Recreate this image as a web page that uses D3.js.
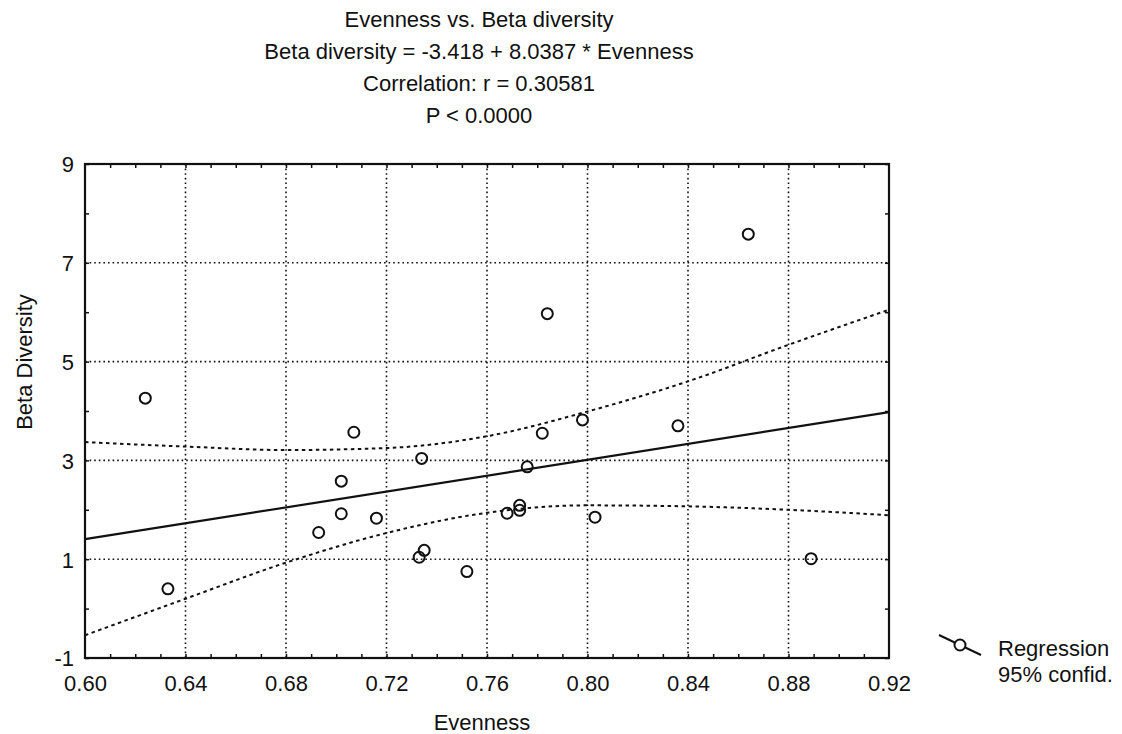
<!DOCTYPE html>
<html>
<head>
<meta charset="utf-8">
<script src="https://cdn.jsdelivr.net/npm/d3@7"></script>
<style>
  body { margin: 0; background: #fff; }
  text { font-family: "Liberation Sans", Arial, sans-serif; fill: #111; }
</style>
</head>
<body>
<div id="container"></div>
<script>
// define constants
const WIDTH = 1122;
const HEIGHT = 734;
const MARGIN = { top: 164, left: 85, right: 233, bottom: 76 };
const PLOT_W = WIDTH - MARGIN.left - MARGIN.right;
const PLOT_H = HEIGHT - MARGIN.top - MARGIN.bottom;
const FONT = "22px";

// data
const evenness = [0.624, 0.633, 0.707, 0.702, 0.702, 0.693, 0.716, 0.734, 0.735, 0.733, 0.752,
    0.773, 0.773, 0.768, 0.776, 0.782, 0.784, 0.798, 0.803, 0.836, 0.864, 0.889];
const betaDiversity = [4.26, 0.40, 3.57, 2.58, 1.92, 1.54, 1.83, 3.04, 1.18, 1.04, 0.75,
    2.09, 1.99, 1.93, 2.87, 3.55, 5.97, 3.82, 1.85, 3.70, 7.58, 1.01];

// regression line ends and 95% band, read at the x ticks
const fitX = [0.60, 0.92];
const fitY = [1.405, 3.977];
const bandX = [0.60, 0.64, 0.68, 0.72, 0.76, 0.80, 0.84, 0.88, 0.92];
const bandUpper = [3.37, 3.28, 3.21, 3.25, 3.49, 3.99, 4.60, 5.34, 6.05];
const bandLower = [-0.54, 0.20, 0.93, 1.53, 1.94, 2.09, 2.07, 2.00, 1.89];

const xTicks = [0.60, 0.64, 0.68, 0.72, 0.76, 0.80, 0.84, 0.88, 0.92];
const yTicks = [-1, 1, 3, 5, 7, 9];
const titleLines = [
    "Evenness vs. Beta diversity",
    "Beta diversity = -3.418 + 8.0387 * Evenness",
    "Correlation: r = 0.30581",
    "P < 0.0000"
];

// create svg element
const canvas = d3.select("#container")
    .append("svg")
    .attr("width", WIDTH)
    .attr("height", HEIGHT);

const xScale = d3.scaleLinear().domain([0.60, 0.92]).range([0, PLOT_W]);
const yScale = d3.scaleLinear().domain([-1, 9]).range([PLOT_H, 0]);

const plot = canvas.append("g")
    .attr("transform", "translate(" + MARGIN.left + "," + MARGIN.top + ")");

// dotted grid
plot.selectAll(".vgrid")
    .data(xTicks.slice(1, -1))
    .enter()
    .append("line")
    .attr("x1", (d) => xScale(d)).attr("x2", (d) => xScale(d))
    .attr("y1", 0).attr("y2", PLOT_H)
    .attr("stroke", "#111").attr("stroke-width", 1.6)
    .attr("stroke-dasharray", "1.6,3");

plot.selectAll(".hgrid")
    .data(yTicks.slice(1, -1))
    .enter()
    .append("line")
    .attr("x1", 0).attr("x2", PLOT_W)
    .attr("y1", (d) => yScale(d)).attr("y2", (d) => yScale(d))
    .attr("stroke", "#111").attr("stroke-width", 1.6)
    .attr("stroke-dasharray", "1.6,3");

// minor ticks, pointing inside on all four sides
const minorX = d3.range(61, 92).map((d) => d / 100);
const minorY = d3.range(-1, 10);

plot.append("g")
    .attr("transform", "translate(0," + PLOT_H + ")")
    .call(d3.axisBottom(xScale).tickValues(minorX).tickSize(-4).tickFormat(""))
    .call((g) => g.select(".domain").remove());
plot.append("g")
    .call(d3.axisTop(xScale).tickValues(minorX).tickSize(-4).tickFormat(""))
    .call((g) => g.select(".domain").remove());
plot.append("g")
    .call(d3.axisLeft(yScale).tickValues(minorY).tickSize(-4).tickFormat(""))
    .call((g) => g.select(".domain").remove());
plot.append("g")
    .attr("transform", "translate(" + PLOT_W + ",0)")
    .call(d3.axisRight(yScale).tickValues(minorY).tickSize(-4).tickFormat(""))
    .call((g) => g.select(".domain").remove());
plot.selectAll(".tick line").attr("stroke", "#111").attr("stroke-width", 1.5);

// tick labels (plain hyphen for the minus sign, as in the original)
const bottomAxis = plot.append("g")
    .attr("transform", "translate(0," + PLOT_H + ")")
    .call(d3.axisBottom(xScale).tickValues(xTicks).tickSize(0).tickPadding(17)
        .tickFormat(d3.format(".2f")));
const leftAxis = plot.append("g")
    .call(d3.axisLeft(yScale).tickValues(yTicks).tickSize(0).tickPadding(11)
        .tickFormat((d) => String(d)));
[bottomAxis, leftAxis].forEach((g) => {
    g.select(".domain").remove();
    g.selectAll("text")
        .style("font-family", "'Liberation Sans', Arial, sans-serif")
        .style("font-size", FONT)
        .attr("fill", "#111");
});
leftAxis.selectAll("text").attr("dy", "0.36em");

// confidence band
const band = d3.line()
    .x((d, i) => xScale(bandX[i]))
    .y((d) => yScale(d))
    .curve(d3.curveMonotoneX);

[bandUpper, bandLower].forEach((values) => {
    plot.append("path")
        .attr("d", band(values))
        .attr("fill", "none")
        .attr("stroke", "#111")
        .attr("stroke-width", 2)
        .attr("stroke-dasharray", "3.5,3.5");
});

// regression line
plot.append("line")
    .attr("x1", xScale(fitX[0])).attr("y1", yScale(fitY[0]))
    .attr("x2", xScale(fitX[1])).attr("y2", yScale(fitY[1]))
    .attr("stroke", "#111").attr("stroke-width", 2.2);

// points
plot.selectAll("circle")
    .data(evenness)
    .enter()
    .append("circle")
    .attr("cx", (d) => xScale(d))
    .attr("cy", (d, i) => yScale(betaDiversity[i]))
    .attr("r", 5.5)
    .attr("fill", "none")
    .attr("stroke", "#111")
    .attr("stroke-width", 2);

// frame
plot.append("rect")
    .attr("width", PLOT_W).attr("height", PLOT_H)
    .attr("fill", "none")
    .attr("stroke", "#111").attr("stroke-width", 2.2);

// title
canvas.selectAll(".title")
    .data(titleLines)
    .enter()
    .append("text")
    .attr("x", 479)
    .attr("y", (d, i) => 27 + i * 32)
    .attr("text-anchor", "middle")
    .style("font-size", FONT)
    .text((d) => d);

// label x axis
canvas.append("text")
    .attr("x", 482)
    .attr("y", 730)
    .attr("text-anchor", "middle")
    .style("font-size", FONT)
    .text("Evenness");

// label y axis
canvas.append("text")
    .attr("transform", "translate(32,362) rotate(-90)")
    .attr("text-anchor", "middle")
    .style("font-size", FONT)
    .text("Beta Diversity");

// legend
const legend = canvas.append("g").attr("transform", "translate(939,635)");
legend.append("line")
    .attr("x1", 0).attr("y1", 0).attr("x2", 42).attr("y2", 20)
    .attr("stroke", "#111").attr("stroke-width", 2);
legend.append("circle")
    .attr("cx", 21).attr("cy", 10).attr("r", 5.5)
    .attr("fill", "#fff").attr("stroke", "#111").attr("stroke-width", 2);
legend.append("text").attr("x", 59).attr("y", 21).style("font-size", FONT).text("Regression");
legend.append("text").attr("x", 59).attr("y", 47).style("font-size", FONT).text("95% confid.");
</script>
</body>
</html>
